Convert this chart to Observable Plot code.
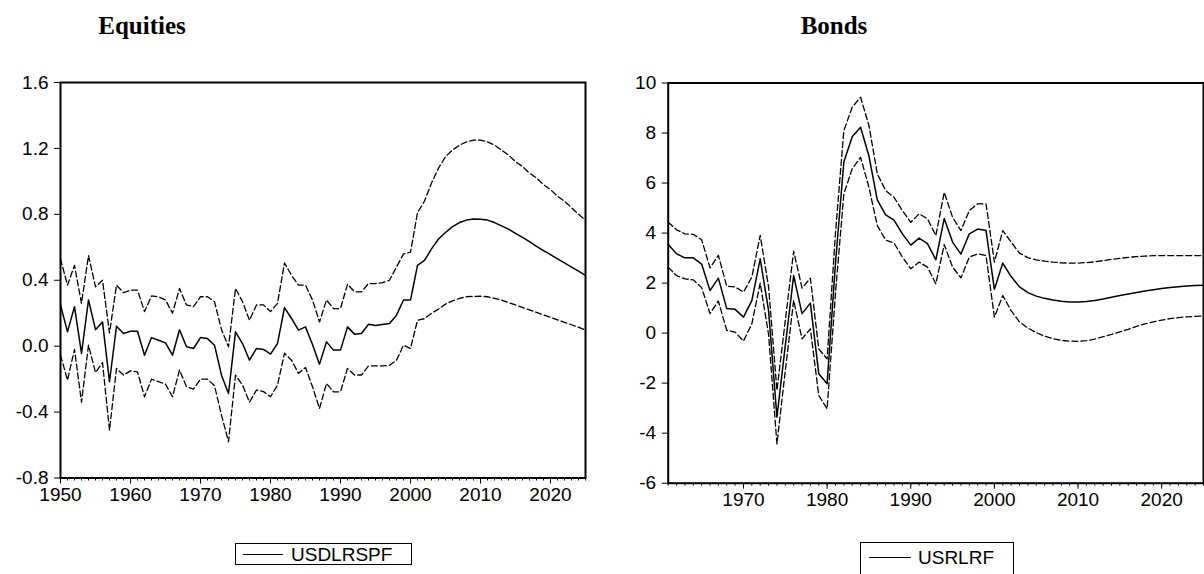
<!DOCTYPE html>
<html><head><meta charset="utf-8">
<script src="https://cdn.jsdelivr.net/npm/d3@7"></script>
<script src="https://cdn.jsdelivr.net/npm/@observablehq/plot@0.6"></script>
<style>
body{margin:0;background:#fff;}
#wrap{position:relative;width:1204px;height:574px;overflow:hidden;font-family:"Liberation Sans",Arial,sans-serif;color:#000;}
.title{position:absolute;top:12px;font-family:"Liberation Serif","Times New Roman",serif;font-weight:bold;font-size:25px;line-height:28px;transform:translateX(-50%);white-space:nowrap;}
.panel{position:absolute;top:0;}
.legend{position:absolute;border:1px solid #000;background:#fff;box-sizing:border-box;}
.legend .ln{position:absolute;height:0;border-top:1.5px solid #000;}
.legend .tx{position:absolute;font-size:19px;line-height:19px;white-space:nowrap;}
</style></head>
<body><div id="wrap">
<div class="title" style="left:142px">Equities</div>
<div class="title" style="left:834px">Bonds</div>
<div id="p1" class="panel" style="left:0"></div>
<div id="p2" class="panel" style="left:600px"></div>
<div class="legend" style="left:235px;top:543px;width:177px;height:22px"><div class="ln" style="left:7px;width:40px;top:10px"></div><div class="tx" style="left:55px;top:1px">USDLRSPF</div></div>
<div class="legend" style="left:860px;top:542px;width:154px;height:40px"><div class="ln" style="left:8px;width:42px;top:14px"></div><div class="tx" style="left:57px;top:5px">USRLRF</div></div>
</div>
<script>
// ---------- Equities (USDLRSPF), 1950-2025 ----------
const eqStart = 1950, eqEnd = 2025;
const eqMid = [0.25,0.087,0.24,-0.044,0.28,0.10,0.147,-0.216,0.121,0.077,
  0.09,0.09,-0.055,0.052,0.036,0.02,-0.055,0.10,-0.004,-0.014,
  0.052,0.046,0.006,-0.176,-0.287,0.087,0.016,-0.085,-0.014,-0.02,
  -0.048,0.016,0.234,0.168,0.097,0.117,0.01,-0.109,0.026,-0.024,
  -0.024,0.117,0.073,0.077,0.133,0.125,0.131,0.137,0.188,0.28,
  0.28,0.49,0.52,0.59,0.65,0.69,0.725,0.75,0.765,0.772,
  0.77,0.765,0.75,0.73,0.71,0.685,0.66,0.635,0.605,0.58,
  0.555,0.53,0.505,0.48,0.455,0.43];
const eqUp = [0.53,0.37,0.49,0.26,0.55,0.36,0.40,0.08,0.37,0.325,
  0.34,0.34,0.21,0.305,0.30,0.28,0.20,0.35,0.25,0.24,
  0.30,0.30,0.27,0.10,-0.004,0.35,0.27,0.157,0.25,0.25,
  0.21,0.26,0.505,0.43,0.37,0.37,0.28,0.147,0.28,0.228,
  0.228,0.376,0.33,0.33,0.38,0.38,0.385,0.40,0.48,0.56,
  0.57,0.81,0.88,0.99,1.08,1.15,1.19,1.22,1.24,1.25,
  1.25,1.24,1.22,1.19,1.16,1.12,1.09,1.05,1.02,0.98,
  0.95,0.91,0.88,0.84,0.80,0.765];
const eqLo = [-0.055,-0.206,-0.02,-0.34,0.006,-0.16,-0.10,-0.51,-0.135,-0.176,
  -0.15,-0.156,-0.307,-0.20,-0.215,-0.23,-0.307,-0.145,-0.246,-0.26,
  -0.20,-0.20,-0.24,-0.418,-0.58,-0.176,-0.236,-0.34,-0.266,-0.276,
  -0.307,-0.236,-0.043,-0.085,-0.165,-0.13,-0.246,-0.378,-0.226,-0.277,
  -0.277,-0.135,-0.175,-0.175,-0.12,-0.12,-0.12,-0.116,-0.085,0.006,
  -0.014,0.157,0.167,0.20,0.225,0.255,0.275,0.29,0.30,0.302,
  0.303,0.30,0.29,0.28,0.265,0.25,0.235,0.22,0.205,0.19,
  0.175,0.16,0.145,0.13,0.115,0.097];
const eqYTicks = [-0.8,-0.4,0.0,0.4,0.8,1.2,1.6];
const eqXTicks = [1950,1960,1970,1980,1990,2000,2010,2020];

// ---------- Bonds (USRLRF), 1961-2025 ----------
const bdStart = 1961, bdEnd = 2025;
const bdMid = [3.54,3.17,3.01,3.01,2.76,1.7,2.2,0.98,0.95,
  0.64,1.3,2.97,0.9,-3.36,-0.5,2.3,0.78,1.2,-1.62,
  -2.02,2.8,6.84,7.85,8.23,7.08,5.33,4.73,4.52,3.97,
  3.52,3.8,3.58,2.93,4.58,3.64,3.16,3.97,4.16,4.1,
  1.75,2.8,2.26,1.85,1.62,1.48,1.39,1.32,1.27,1.24,
  1.24,1.26,1.3,1.36,1.43,1.5,1.56,1.62,1.68,1.73,
  1.78,1.82,1.85,1.88,1.9,1.91];
const bdUp = [4.43,4.13,3.97,3.95,3.73,2.61,3.11,1.87,1.85,
  1.64,2.24,3.91,1.85,-2.29,0.5,3.28,1.8,2.2,-0.63,
  -1.03,4.0,8.1,9.03,9.43,8.3,6.37,5.7,5.43,4.9,
  4.43,4.77,4.57,3.9,5.63,4.63,4.1,4.9,5.17,5.17,
  2.84,4.1,3.64,3.2,3.02,2.93,2.88,2.84,2.81,2.8,
  2.8,2.82,2.85,2.9,2.95,2.99,3.03,3.06,3.08,3.1,
  3.1,3.1,3.1,3.1,3.1,3.1];
const bdLo = [2.63,2.3,2.17,2.13,1.82,0.78,1.28,0.11,0.04,
  -0.32,0.37,2.0,-0.05,-4.43,-1.5,1.31,-0.23,0.17,-2.49,
  -3.03,1.6,5.57,6.57,7.03,5.83,4.3,3.72,3.6,3.04,
  2.57,2.84,2.64,1.97,3.54,2.64,2.21,3.04,3.17,3.1,
  0.64,1.5,0.9,0.45,0.2,0.02,-0.12,-0.22,-0.29,-0.32,
  -0.33,-0.3,-0.24,-0.14,-0.05,0.05,0.15,0.27,0.37,0.45,
  0.52,0.58,0.62,0.65,0.67,0.68];
const bdYTicks = [-6,-4,-2,0,2,4,6,8,10];
const bdXTicks = [1970,1980,1990,2000,2010,2020];

function panel({start, end, mid, up, lo, yDomain, yTicks, yFmt, xTicks, width, height, mL, mR, mT, mB}) {
  const years = d3.range(start, end + 1);
  const rows = years.map((yr, i) => ({yr, mid: mid[i], up: up[i], lo: lo[i]}));
  const font = {fontSize: 19, fontFamily: "Liberation Sans, Arial, sans-serif"};
  return Plot.plot({
    width, height,
    marginLeft: mL, marginRight: mR, marginTop: mT, marginBottom: mB,
    x: {domain: [start, end], label: null},
    y: {domain: yDomain, label: null},
    style: {fontFamily: "Liberation Sans, Arial, sans-serif", fontSize: "19px", color: "#000", background: "transparent", overflow: "visible"},
    marks: [
      Plot.axisX(years, {tickSize: 3, tickFormat: () => "", strokeWidth: 1}),
      Plot.axisX(xTicks, {tickSize: 6, tickPadding: 3, tickFormat: d => String(d), ...font}),
      Plot.axisY(yTicks, {tickSize: 6, tickPadding: 6, tickFormat: yFmt, ...font}),
      Plot.line(rows, {x: "yr", y: "up", stroke: "#000", strokeWidth: 1.3, strokeDasharray: "6,3"}),
      Plot.line(rows, {x: "yr", y: "lo", stroke: "#000", strokeWidth: 1.3, strokeDasharray: "6,3"}),
      Plot.line(rows, {x: "yr", y: "mid", stroke: "#000", strokeWidth: 1.5}),
      Plot.frame({stroke: "#000", strokeWidth: 2})
    ]
  });
}

document.getElementById("p1").append(panel({
  start: eqStart, end: eqEnd, mid: eqMid, up: eqUp, lo: eqLo,
  yDomain: [-0.8, 1.6], yTicks: eqYTicks, yFmt: d => d.toFixed(1), xTicks: eqXTicks,
  width: 600, height: 530, mL: 60, mR: 15, mT: 82, mB: 52.5
}));
document.getElementById("p2").append(panel({
  start: bdStart, end: bdEnd, mid: bdMid, up: bdUp, lo: bdLo,
  yDomain: [-6, 10], yTicks: bdYTicks, yFmt: d => String(d), xTicks: bdXTicks,
  width: 604, height: 530, mL: 67.7, mR: 1, mT: 82.5, mB: 47.3
}));
</script>
</body></html>
